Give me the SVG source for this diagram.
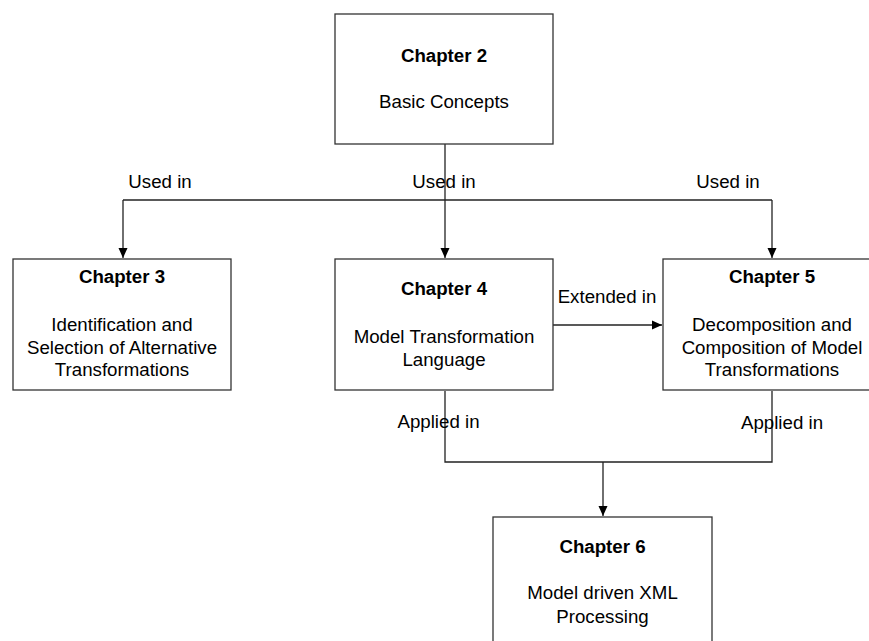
<svg xmlns="http://www.w3.org/2000/svg" width="869" height="641" viewBox="0 0 869 641">
<style>
.box{fill:#fff;stroke:#333;stroke-width:1.3}
.t{font-family:"Liberation Sans",Arial,sans-serif;font-size:18.7px;fill:#000;text-anchor:middle}
.b{font-weight:bold}
.c{fill:none;stroke:#222;stroke-width:1.3}
</style>
<defs>
<marker id="ah" markerUnits="userSpaceOnUse" markerWidth="12" markerHeight="12" viewBox="0 0 12 12" refX="11" refY="6" orient="auto">
<path d="M1,1.5 L11,6 L1,10.5 Z" fill="#000"/>
</marker>
</defs>
<rect width="869" height="641" fill="#fff"/>
<g id="connectors">
<path class="c" d="M445,144 V258" marker-end="url(#ah)"/>
<path class="c" d="M123,200 H772"/>
<path class="c" d="M123,200 V258" marker-end="url(#ah)"/>
<path class="c" d="M772,200 V258" marker-end="url(#ah)"/>
<path class="c" d="M553,325 H662" marker-end="url(#ah)"/>
<path class="c" d="M445,391 V462 H772 V391"/>
<path class="c" d="M603,462 V516" marker-end="url(#ah)"/>
<text class="t" x="160" y="188">Used in</text>
<text class="t" x="444" y="188">Used in</text>
<text class="t" x="728" y="188">Used in</text>
<text class="t" x="607" y="303">Extended in</text>
<text class="t" x="438.5" y="428">Applied in</text>
<text class="t" x="782" y="429">Applied in</text>
</g>
<g id="ch2">
<rect class="box" x="335" y="14" width="218" height="130"/>
<text class="t b" x="444" y="62">Chapter 2</text>
<text class="t" x="444" y="108">Basic Concepts</text>
</g>
<g id="ch3">
<rect class="box" x="13" y="259" width="218" height="131"/>
<text class="t b" x="122" y="283">Chapter 3</text>
<text class="t" x="122" y="331">Identification and</text>
<text class="t" x="122" y="354">Selection of Alternative</text>
<text class="t" x="122" y="376">Transformations</text>
</g>
<g id="ch4">
<rect class="box" x="335" y="259" width="218" height="131"/>
<text class="t b" x="444" y="295">Chapter 4</text>
<text class="t" x="444" y="343">Model Transformation</text>
<text class="t" x="444" y="366">Language</text>
</g>
<g id="ch5">
<rect class="box" x="663" y="259" width="218" height="131"/>
<text class="t b" x="772" y="283">Chapter 5</text>
<text class="t" x="772" y="331">Decomposition and</text>
<text class="t" x="772" y="354">Composition of Model</text>
<text class="t" x="772" y="376">Transformations</text>
</g>
<g id="ch6">
<rect class="box" x="493" y="517" width="219" height="140"/>
<text class="t b" x="602.5" y="553">Chapter 6</text>
<text class="t" x="602.5" y="599">Model driven XML</text>
<text class="t" x="602.5" y="623">Processing</text>
</g>
</svg>
